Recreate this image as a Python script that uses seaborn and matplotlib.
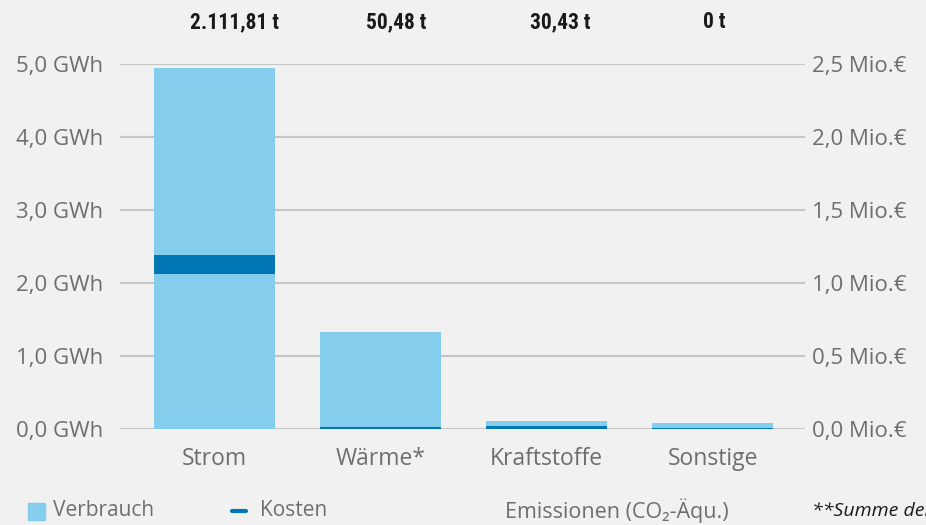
"""
Energieverbrauch, Kosten und Emissionen nach Energieträger.
"""
import numpy as np
import pandas as pd
import matplotlib
matplotlib.use("Agg")
import matplotlib.pyplot as plt
import seaborn as sns

categories = ["Strom", "Wärme*", "Kraftstoffe", "Sonstige"]
verbrauch_gwh = [4.945, 1.33, 0.11, 0.08]
kosten_mio = [1.19, 0.015, 0.022, 0.01]
emissionen = ["2.111,81 t", "50,48 t", "30,43 t", "0 t"]
left_ticks = ["0,0 GWh", "1,0 GWh", "2,0 GWh", "3,0 GWh", "4,0 GWh", "5,0 GWh"]
right_ticks = ["0,0 Mio.€", "0,5 Mio.€", "1,0 Mio.€", "1,5 Mio.€", "2,0 Mio.€", "2,5 Mio.€"]

# horizontal shift of the emission labels relative to the bar centres
label_shift = [0.123, 0.092, 0.079, 0.011]

BG = "#f0f1f0"
LIGHT = "#84cdec"
DARK = "#0076b5"
GRID = "#c6c6c6"
TXT = "#6e6e6e"
FONT = ["Open Sans", "DejaVu Sans"]

sns.set_style("white")
plt.rcParams["font.family"] = FONT

df = pd.DataFrame({"Kategorie": categories, "Verbrauch": verbrauch_gwh})

fig = plt.figure(figsize=(9.26, 5.25), dpi=100, facecolor=BG)
ax = fig.add_axes([0.1296, 0.1829, 0.7394, 0.6952])
ax.set_facecolor(BG)

# Verbrauch bars
sns.barplot(data=df, x="Kategorie", y="Verbrauch", color=LIGHT, width=0.728,
            saturation=1, linewidth=0, ax=ax, zorder=2)
ax.set_xlim(-0.569, 3.553)
ax.set_ylim(0, 5)
ax.set_yticks(range(6))
ax.set_yticklabels(left_ticks)
ax.yaxis.grid(True, color=GRID, linewidth=1.5, zorder=0)
ax.set_axisbelow(True)
ax.set_xlabel("")
ax.set_ylabel("")
ax.tick_params(axis="both", length=0, labelcolor=TXT)
ax.tick_params(axis="x", pad=13, labelsize=16.5)
ax.tick_params(axis="y", pad=12, labelsize=16)
sns.despine(ax=ax, left=True, bottom=True)

# Kosten markers on the secondary axis
ax2 = ax.twinx()
ax2.set_ylim(0, 2.5)
ax2.set_yticks(np.arange(0, 2.51, 0.5))
ax2.set_yticklabels(right_ticks)
ax2.tick_params(axis="y", length=0, labelsize=16, labelcolor=TXT, pad=5)
for s in ax2.spines.values():
    s.set_visible(False)
kosten = np.array(kosten_mio)
bottoms = np.maximum(kosten - 0.13, 0)
ax2.bar(range(len(categories)), kosten - bottoms, bottom=bottoms, width=0.728,
        color=DARK, linewidth=0, zorder=3)

# Emissionen above the bars
for i, label in enumerate(emissionen):
    ax.text(i + label_shift[i], 1.0 + 42 / 365, label,
            transform=ax.get_xaxis_transform(), ha="center", va="center",
            fontsize=15.5, fontweight="bold", color="#1a1a1a",
            family=["Roboto Condensed", "Lato", "DejaVu Sans"])

# Legend row
ly = 1 - 511 / 525
fig.patches.append(plt.Rectangle((28 / 926, 1 - 520 / 525), 17 / 926, 17 / 525,
                                 transform=fig.transFigure, color=LIGHT, figure=fig))
fig.text(53 / 926, ly, "Verbrauch", color=TXT, fontsize=15, va="center")
fig.add_artist(plt.Line2D([232 / 926, 246 / 926], [ly, ly],
                          transform=fig.transFigure, color=DARK, linewidth=3))
fig.text(260 / 926, ly, "Kosten", color=TXT, fontsize=15, va="center")
fig.text(505 / 926, ly, "Emissionen (CO₂-Äqu.)", color=TXT, fontsize=15.5,
         va="center")
fig.text(812 / 926, ly, "**Summe der Emissionen", color="#1a1a1a",
         fontsize=14, style="italic", va="center")

fig.savefig("out.png", dpi=100, facecolor=BG)
plt.close(fig)
